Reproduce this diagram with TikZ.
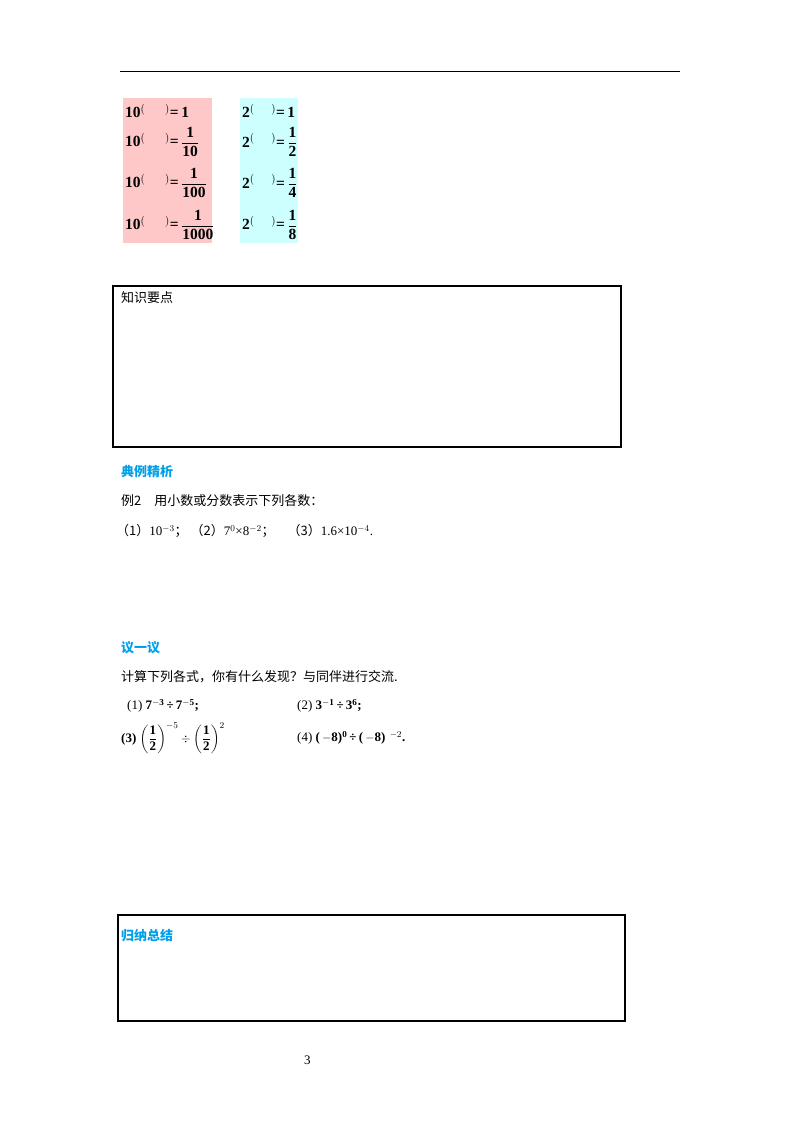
\documentclass[tikz,border=0pt]{standalone}
\usepackage{amsmath}
\usepackage{fontspec}
\setmainfont{Liberation Serif}
\newfontfamily\cjk{Noto Sans CJK SC}
\definecolor{pinkbg}{RGB}{255,200,200}
\definecolor{cyanbg}{RGB}{205,255,255}
\definecolor{hblue}{RGB}{0,160,233}
\begin{document}
\begin{tikzpicture}[x=1pt,y=-1pt,
  txt/.style={anchor=west,inner sep=0pt,font=\fontsize{13}{15}\selectfont},
  head/.style={txt,text=hblue,font=\fontsize{13}{15}\selectfont\cjk\bfseries},
  eq/.style={anchor=west,inner sep=0pt,font=\fontsize{15.5}{17}\selectfont\bfseries},
  frame/.style={draw,line width=1.1pt}]
\useasboundingbox (0,0) rectangle (800,1132);
\draw[line width=1pt] (120,72) -- (680,72);
\fill[pinkbg] (123,98) rectangle (212,243);
\fill[cyanbg] (240,98) rectangle (298,243);
\node[eq] (a1) at (125,111) {10$^{(\hspace{1.3em})}$=\,1};
\node[eq] (a2) at (125,142) {10$^{(\hspace{1.3em})}$=\,$\dfrac{\mathbf 1}{\mathbf{10}}$};
\node[eq] (a3) at (125,183) {10$^{(\hspace{1.3em})}$=\,$\dfrac{\mathbf 1}{\mathbf{100}}$};
\node[eq] (a4) at (125,225) {10$^{(\hspace{1.3em})}$=\,$\dfrac{\mathbf 1}{\mathbf{1000}}$};
\node[eq] (b1) at (242,111) {2$^{(\hspace{1.1em})}$=\,1};
\node[eq] (b2) at (242,142) {2$^{(\hspace{1.1em})}$=\,$\dfrac{\mathbf 1}{\mathbf 2}$};
\node[eq] (b3) at (242,183) {2$^{(\hspace{1.1em})}$=\,$\dfrac{\mathbf 1}{\mathbf 4}$};
\node[eq] (b4) at (242,225) {2$^{(\hspace{1.1em})}$=\,$\dfrac{\mathbf 1}{\mathbf 8}$};
\draw[frame] (113,286) rectangle (621,447);
\node[txt] (k) at (121,298) {\cjk 知识要点};
\node[head] (h1) at (121,472) {典例精析};
\node[txt] (e2) at (121,501) {\cjk 例2\quad 用小数或分数表示下列各数：};
\node[txt] (e2a) at (116,531) {{\cjk （1）}10$^{-3}${\cjk ；\ （2）}7$^{0}$×8$^{-2}${\cjk ；\quad （3）}1.6×10$^{-4}$.};
\node[head] (h2) at (121,648) {议一议};
\node[txt] (c) at (121,677) {\cjk 计算下列各式，你有什么发现？与同伴进行交流.};
\node[txt] (p1) at (127,706) {(1) \textbf{7$^{\mathbf{-3}}$\,÷\,7$^{\mathbf{-5}}$;}};
\node[txt] (p2) at (297,706) {(2) \textbf{3$^{\mathbf{-1}}$\,÷\,3$^{\mathbf 6}$;}};
\node[txt] (p3) at (121,738) {\textbf{(3)} $\left(\dfrac{\mathbf 1}{\mathbf 2}\right)^{-5}\div\left(\dfrac{\mathbf 1}{\mathbf 2}\right)^{2}$};
\node[txt] (p4) at (297,738) {(4) \textbf{(\,$-$8)$^{\mathbf 0}$\,÷\,(\,$-$8)\,\,$^{-2}$.}};
\draw[frame] (118,915) rectangle (625,1021);
\node[head] (h3) at (121,936) {归纳总结};
\node[txt] (pg) at (304,1060) {3};
\end{tikzpicture}
\end{document}
